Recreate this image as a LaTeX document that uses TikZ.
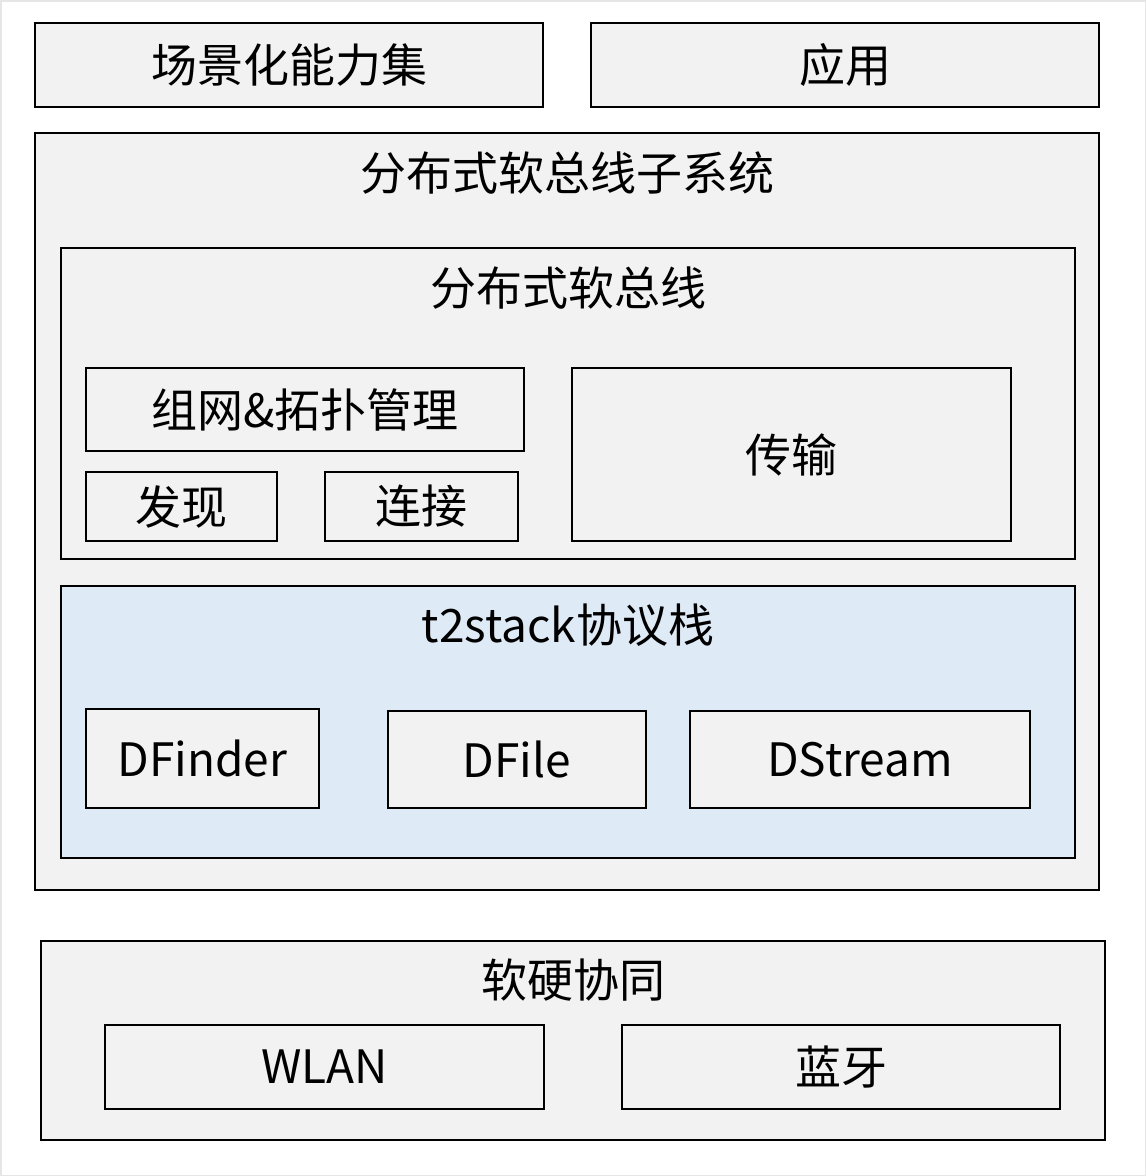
\documentclass[tikz,border=0pt]{standalone}
\usepackage{fontspec}
\newfontfamily\cjk{Noto Sans CJK SC}
\definecolor{boxgray}{HTML}{F2F2F2}
\definecolor{boxblue}{HTML}{DEEAF6}
\definecolor{framegray}{HTML}{E6E6E6}
\tikzset{
  box/.style={draw=black, line width=1.8pt, fill=boxgray, inner sep=0pt, outer sep=0pt,
    font=\cjk\fontsize{46}{52}\selectfont},
  bluebox/.style={box, fill=boxblue},
  title/.style={inner sep=0pt, font=\cjk\fontsize{46}{52}\selectfont}
}
\begin{document}
\begin{tikzpicture}[x=1pt, y=-1pt]
\useasboundingbox (0,0) rectangle (1146,1176);
\fill[white] (0,0) rectangle (1146,1176);
\draw[framegray, line width=1.5pt] (0.75,0.75) rectangle (1145.25,1175.25);
\node[box, minimum width=508pt, minimum height=84pt] (cap) at (289,65) {场景化能力集};
\node[box, minimum width=508pt, minimum height=84pt] (app) at (845,65) {应用};
\node[box, minimum width=1064pt, minimum height=757pt] (sub) at (567,511.5) {};
\node[title] (subt) at (567,173) {分布式软总线子系统};
\node[box, minimum width=1014pt, minimum height=311pt] (bus) at (568,403.5) {};
\node[title] (bust) at (568,288) {分布式软总线};
\node[box, minimum width=438pt, minimum height=83pt] (net) at (305,409.5) {组网\&拓扑管理};
\node[box, minimum width=191pt, minimum height=69pt] (disc) at (181.5,506.5) {发现};
\node[box, minimum width=193pt, minimum height=69pt] (conn) at (421.5,506.5) {连接};
\node[box, minimum width=439pt, minimum height=173pt] (trans) at (791.5,454.5) {传输};
\node[bluebox, minimum width=1014pt, minimum height=272pt] (t2) at (568,722) {};
\node[title] (t2t) at (568,625) {t2stack协议栈};
\node[box, minimum width=233pt, minimum height=99pt] (dfinder) at (202.5,758.5) {DFinder};
\node[box, minimum width=258pt, minimum height=97pt] (dfile) at (517,759.5) {DFile};
\node[box, minimum width=340pt, minimum height=97pt] (dstream) at (860,759.5) {DStream};
\node[box, minimum width=1064pt, minimum height=199pt] (hw) at (573,1040.5) {};
\node[title] (hwt) at (573,980) {软硬协同};
\node[box, minimum width=439pt, minimum height=84pt] (wlan) at (324.5,1067) {WLAN};
\node[box, minimum width=438pt, minimum height=84pt] (bt) at (841,1067) {蓝牙};
\end{tikzpicture}
\end{document}
